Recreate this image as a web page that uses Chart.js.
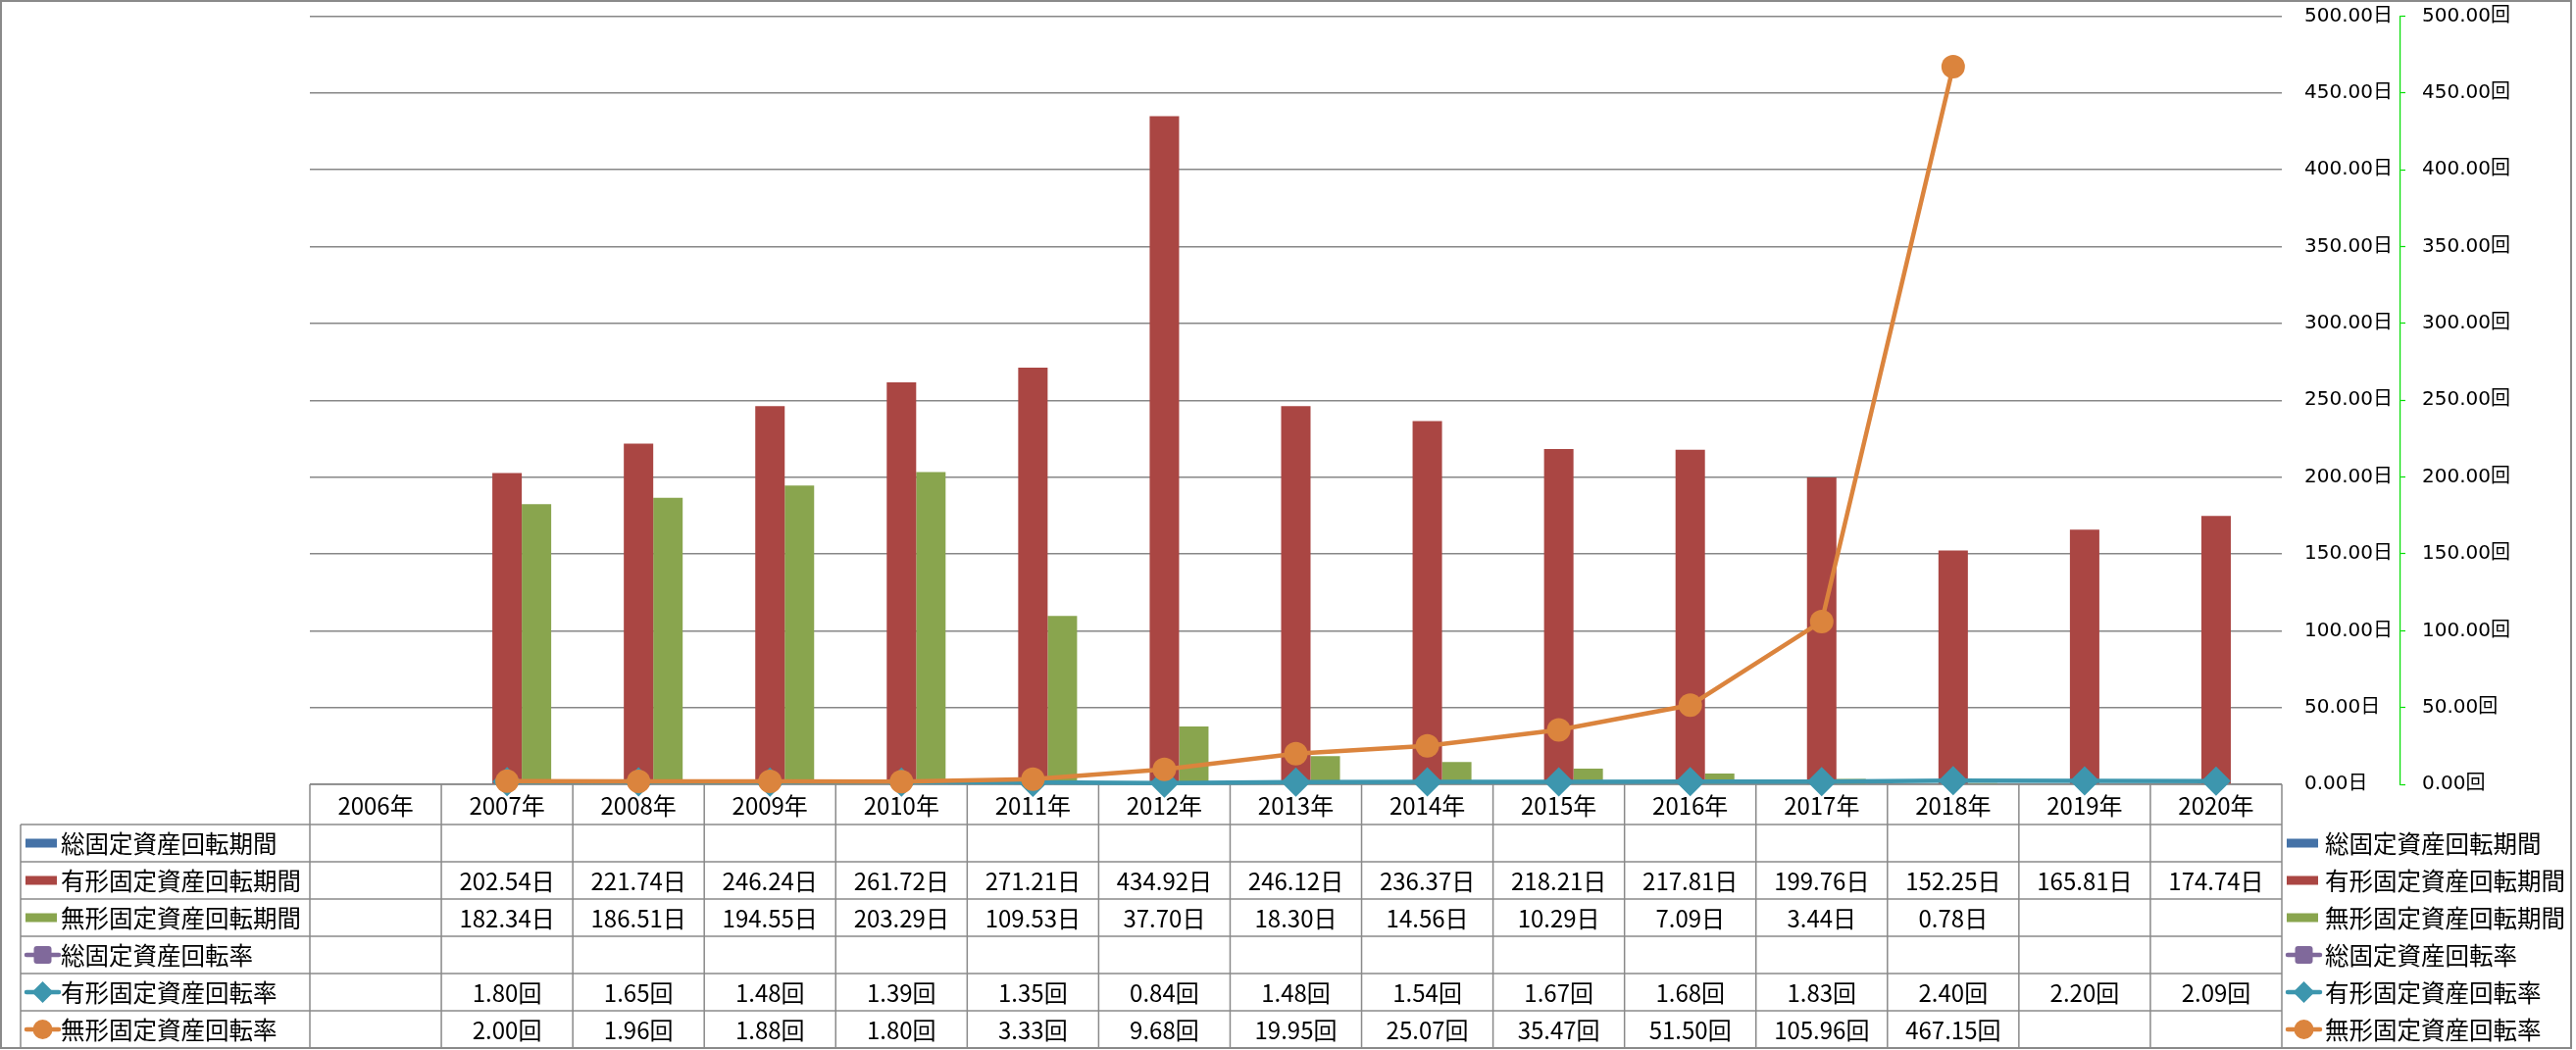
<!DOCTYPE html>
<html>
<head>
<meta charset="utf-8">
<script src="https://cdn.jsdelivr.net/npm/chart.js@4/dist/chart.umd.min.js"></script>
<style>
html,body{margin:0;padding:0;background:#fff;}
canvas{display:block;}
</style>
</head>
<body>
<canvas id="c" width="2627" height="1071" style="width:2627px;height:1071px"></canvas>
<script>
// ---- data ----
const categories = ['2006年','2007年','2008年','2009年','2010年','2011年','2012年','2013年','2014年','2015年','2016年','2017年','2018年','2019年','2020年'];
const totalPeriod      = [null,null,null,null,null,null,null,null,null,null,null,null,null,null,null];
const tangiblePeriod   = [null,202.54,221.74,246.24,261.72,271.21,434.92,246.12,236.37,218.21,217.81,199.76,152.25,165.81,174.74];
const intangiblePeriod = [null,182.34,186.51,194.55,203.29,109.53,37.70,18.30,14.56,10.29,7.09,3.44,0.78,null,null];
const totalRate        = [null,null,null,null,null,null,null,null,null,null,null,null,null,null,null];
const tangibleRate     = [null,1.80,1.65,1.48,1.39,1.35,0.84,1.48,1.54,1.67,1.68,1.83,2.40,2.20,2.09];
const intangibleRate   = [null,2.00,1.96,1.88,1.80,3.33,9.68,19.95,25.07,35.47,51.50,105.96,467.15,null,null];
const seriesNames = ['総固定資産回転期間','有形固定資産回転期間','無形固定資産回転期間','総固定資産回転率','有形固定資産回転率','無形固定資産回転率'];
const dayUnit = '日';
const rateUnit = '回';
const axisMin = 0, axisMax = 500, axisStep = 50;

const C_BLUE='#4572A7', C_RED='#AA4643', C_GREEN='#89A54E', C_PURPLE='#80699B', C_TEAL='#3D96AE', C_ORANGE='#DB843D';
const TABLE_FONT = '24px "Noto Sans CJK JP", sans-serif';
const LEGEND_FONT = '24.5px "Noto Sans CJK JP", sans-serif';
const LINE_GRAY = '#8a8a8a';

const tableRows = [
  {name: seriesNames[0], data: totalPeriod, unit: dayUnit, kind:'bar', color:C_BLUE},
  {name: seriesNames[1], data: tangiblePeriod, unit: dayUnit, kind:'bar', color:C_RED},
  {name: seriesNames[2], data: intangiblePeriod, unit: dayUnit, kind:'bar', color:C_GREEN},
  {name: seriesNames[3], data: totalRate, unit: rateUnit, kind:'line', marker:'square', color:C_PURPLE},
  {name: seriesNames[4], data: tangibleRate, unit: rateUnit, kind:'line', marker:'diamond', color:C_TEAL},
  {name: seriesNames[5], data: intangibleRate, unit: rateUnit, kind:'line', marker:'circle', color:C_ORANGE}
];

function drawSymbol(ctx, row, x0, cy){
  if(row.kind==='bar'){
    ctx.fillStyle=row.color;
    ctx.fillRect(x0, cy-4.5, 32, 9);
    return;
  }
  ctx.strokeStyle=row.color; ctx.lineWidth=4.5; ctx.lineCap='round';
  ctx.beginPath(); ctx.moveTo(x0+1, cy); ctx.lineTo(x0+34, cy); ctx.stroke();
  const mx = x0+17.5;
  ctx.fillStyle=row.color;
  ctx.beginPath();
  if(row.marker==='square'){
    const s=9;
    ctx.roundRect ? ctx.roundRect(mx-s, cy-s, 2*s, 2*s, 3) : ctx.rect(mx-s, cy-s, 2*s, 2*s);
  } else if(row.marker==='diamond'){
    const s=11;
    ctx.moveTo(mx, cy-s); ctx.lineTo(mx+s, cy); ctx.lineTo(mx, cy+s); ctx.lineTo(mx-s, cy); ctx.closePath();
  } else {
    ctx.arc(mx, cy, 10, 0, Math.PI*2);
  }
  ctx.fill();
}

const tablePlugin = {
  id:'dataTable',
  beforeDatasetsDraw(chart){
    const ctx = chart.ctx;
    const x = chart.scales.x;
    const area = chart.chartArea;
    const n = categories.length;
    const colW = x.getPixelForValue(1) - x.getPixelForValue(0);
    const bound = i => x.getPixelForValue(0) - colW/2 + i*colW;
    const headTop = area.bottom, headH = 41, rowH = 38;
    const rowsTop = headTop + headH;
    const tableBottom = rowsTop + rowH*tableRows.length;
    const legendLeft = 21;
    ctx.save();
    ctx.strokeStyle = LINE_GRAY; ctx.lineWidth = 1.5;
    ctx.beginPath();
    ctx.moveTo(bound(0), headTop); ctx.lineTo(bound(n), headTop);
    for(let r=0;r<=tableRows.length;r++){
      const yy = rowsTop + r*rowH;
      ctx.moveTo(legendLeft, yy); ctx.lineTo(bound(n), yy);
    }
    for(let i=0;i<=n;i++){
      ctx.moveTo(bound(i), headTop); ctx.lineTo(bound(i), tableBottom);
    }
    ctx.moveTo(legendLeft, rowsTop); ctx.lineTo(legendLeft, tableBottom);
    ctx.stroke();
    ctx.fillStyle='#000'; ctx.font=TABLE_FONT; ctx.textAlign='center'; ctx.textBaseline='middle';
    for(let i=0;i<n;i++){
      ctx.fillText(categories[i], x.getPixelForValue(i), headTop + headH/2 + 1);
    }
    tableRows.forEach((row, r)=>{
      const cy = rowsTop + r*rowH + rowH/2;
      ctx.fillStyle='#000'; ctx.font=TABLE_FONT; ctx.textAlign='center'; ctx.textBaseline='middle';
      for(let i=0;i<n;i++){
        const v=row.data[i];
        if(v===null||v===undefined) continue;
        ctx.fillText(v.toFixed(2)+row.unit, x.getPixelForValue(i), cy+1);
      }
      drawSymbol(ctx, row, 26, cy);
      ctx.fillStyle='#000'; ctx.font=LEGEND_FONT; ctx.textAlign='left';
      ctx.fillText(row.name, 62, cy+1);
      drawSymbol(ctx, row, bound(n)+5, cy);
      ctx.fillStyle='#000'; ctx.font=LEGEND_FONT; ctx.textAlign='left';
      ctx.fillText(row.name, bound(n)+44, cy+1);
    });
    ctx.restore();
  },
  afterDraw(chart){
    const ctx=chart.ctx;
    ctx.save();
    ctx.strokeStyle=LINE_GRAY; ctx.lineWidth=2;
    ctx.strokeRect(1,1,2621,1068);
    ctx.restore();
  }
};

const tickFont = {family:'"DejaVu Sans", "Noto Sans CJK JP", sans-serif', size:20};

new Chart(document.getElementById('c'), {
  type:'bar',
  data:{
    labels: categories,
    datasets:[
      {type:'line', label:seriesNames[5], data:intangibleRate, yAxisID:'y2', borderColor:C_ORANGE, backgroundColor:C_ORANGE,
       borderWidth:4.5, pointStyle:'circle', pointRadius:12, pointBorderWidth:0, pointBackgroundColor:C_ORANGE, order:0, clip:false, tension:0},
      {type:'line', label:seriesNames[4], data:tangibleRate, yAxisID:'y2', borderColor:C_TEAL, backgroundColor:C_TEAL,
       borderWidth:4.5, pointStyle:'rectRot', pointRadius:15, pointBorderWidth:0, pointBackgroundColor:C_TEAL, order:1, clip:false, tension:0},
      {type:'line', label:seriesNames[3], data:totalRate, yAxisID:'y2', borderColor:C_PURPLE, backgroundColor:C_PURPLE,
       borderWidth:4.5, pointStyle:'rect', pointRadius:12, order:2, clip:false},
      {type:'bar', label:seriesNames[0], data:totalPeriod, yAxisID:'y', backgroundColor:C_BLUE, order:10, barPercentage:1, categoryPercentage:0.6716},
      {type:'bar', label:seriesNames[1], data:tangiblePeriod, yAxisID:'y', backgroundColor:C_RED, order:11, barPercentage:1, categoryPercentage:0.6716},
      {type:'bar', label:seriesNames[2], data:intangiblePeriod, yAxisID:'y', backgroundColor:C_GREEN, order:12, barPercentage:1, categoryPercentage:0.6716}
    ]
  },
  options:{
    responsive:false, devicePixelRatio:1, animation:false,
    layout:{padding:{left:316, top:16, bottom:271, right:0}},
    plugins:{legend:{display:false}, tooltip:{enabled:false}, title:{display:false}},
    scales:{
      x:{display:false, offset:true},
      y:{position:'right', min:axisMin, max:axisMax,
         ticks:{stepSize:axisStep, padding:23, color:'#000', font:tickFont, callback:v=>v.toFixed(2)+dayUnit},
         grid:{color:'#878787', lineWidth:1.5, drawTicks:false},
         border:{display:false},
         afterFit(s){ s.width = 121; s.paddingTop = 0; s.paddingBottom = 0; }},
      y2:{position:'right', min:axisMin, max:axisMax,
         ticks:{stepSize:axisStep, padding:17, color:'#000', font:tickFont, callback:v=>v.toFixed(2)+rateUnit},
         grid:{drawOnChartArea:false, drawTicks:true, tickLength:5, tickColor:'#00dd00', tickWidth:1.2},
         border:{display:true, color:'#00dd00', width:1.2, dash:[4,4]},
         afterFit(s){ s.width = 179; s.paddingTop = 0; s.paddingBottom = 0; }}
    }
  },
  plugins:[tablePlugin]
});
</script>
</body>
</html>
